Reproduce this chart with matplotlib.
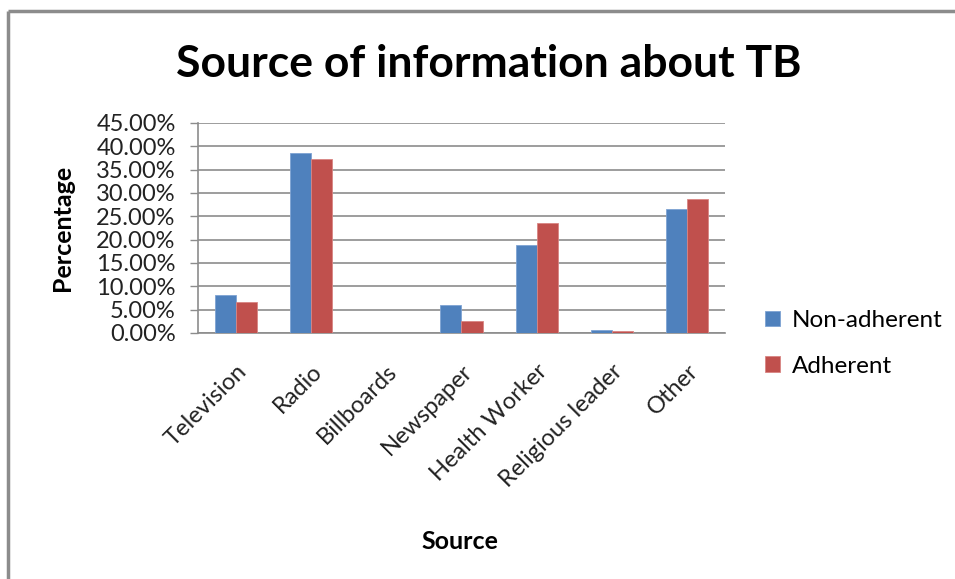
import numpy as np
import matplotlib.pyplot as plt
from matplotlib.lines import Line2D

# data (percent)
sources = ['Television', 'Radio', 'Billboards', 'Newspaper', 'Health Worker',
           'Religious leader', 'Other']
non_adherent = [8.1, 38.6, 0.0, 5.9, 18.9, 0.7, 26.6]
adherent = [6.6, 37.3, 0.0, 2.6, 23.5, 0.5, 28.8]
yticks = [0, 5, 10, 15, 20, 25, 30, 35, 40, 45]

plt.rcParams['font.family'] = ['Lato', 'DejaVu Sans']

fig = plt.figure(figsize=(9.55, 5.79), dpi=100)
ax = fig.add_axes([0.2073, 0.4249, 0.5518, 0.3627])

x = np.arange(len(sources))
w = 0.28
ax.bar(x - w/2, non_adherent, w, color='#4F81BD', edgecolor='#7EA3D3', linewidth=0.6,
       label='Non-adherent', zorder=3)
ax.bar(x + w/2, adherent, w, color='#C0504D', edgecolor='#D88583', linewidth=0.6,
       label='Adherent', zorder=3)

ax.set_xlim(-0.5, len(sources) - 0.5)
ax.set_ylim(0, 45)
ax.set_yticks(yticks)
ax.set_yticklabels([f'{v:.2f}%' for v in yticks], fontsize=17, color='#222222')
ax.yaxis.grid(True, color='#8C8C8C', linewidth=1.2, zorder=0)
ax.set_xticks(x)
ax.set_xticklabels(sources, rotation=45, ha='right', rotation_mode='anchor',
                   fontsize=17, color='#222222')
ax.tick_params(axis='x', length=0, pad=20)
ax.tick_params(axis='y', length=6, width=1, color='#8C8C8C', pad=10)
for s in ['top', 'right']:
    ax.spines[s].set_visible(False)
for s in ['left', 'bottom']:
    ax.spines[s].set_color('#8C8C8C')
    ax.spines[s].set_linewidth(1.2)

ax.set_ylabel('Percentage', fontsize=18, fontweight='bold', labelpad=16)
fig.text(0.482, 0.065, 'Source', fontsize=18, fontweight='bold', ha='center', va='center')
fig.text(0.512, 0.89, 'Source of information about TB', fontsize=32, fontweight='bold',
         ha='center', va='center')

ax.legend(loc='center left', bbox_to_anchor=(1.035, -0.05), frameon=False, fontsize=17.5,
          handlelength=0.6, handleheight=0.6, labelspacing=1.0, handletextpad=0.5)

# outer chart border (left and top only visible)
fig.add_artist(Line2D([0.0085, 0.0085], [0, 0.981], color='#8C8C8C', linewidth=2.5,
                      solid_capstyle='butt', transform=fig.transFigure))
fig.add_artist(Line2D([0.0085, 1.0], [0.981, 0.981], color='#8C8C8C', linewidth=2.5,
                      solid_capstyle='butt', transform=fig.transFigure))

fig.savefig('out.png', dpi=100)
